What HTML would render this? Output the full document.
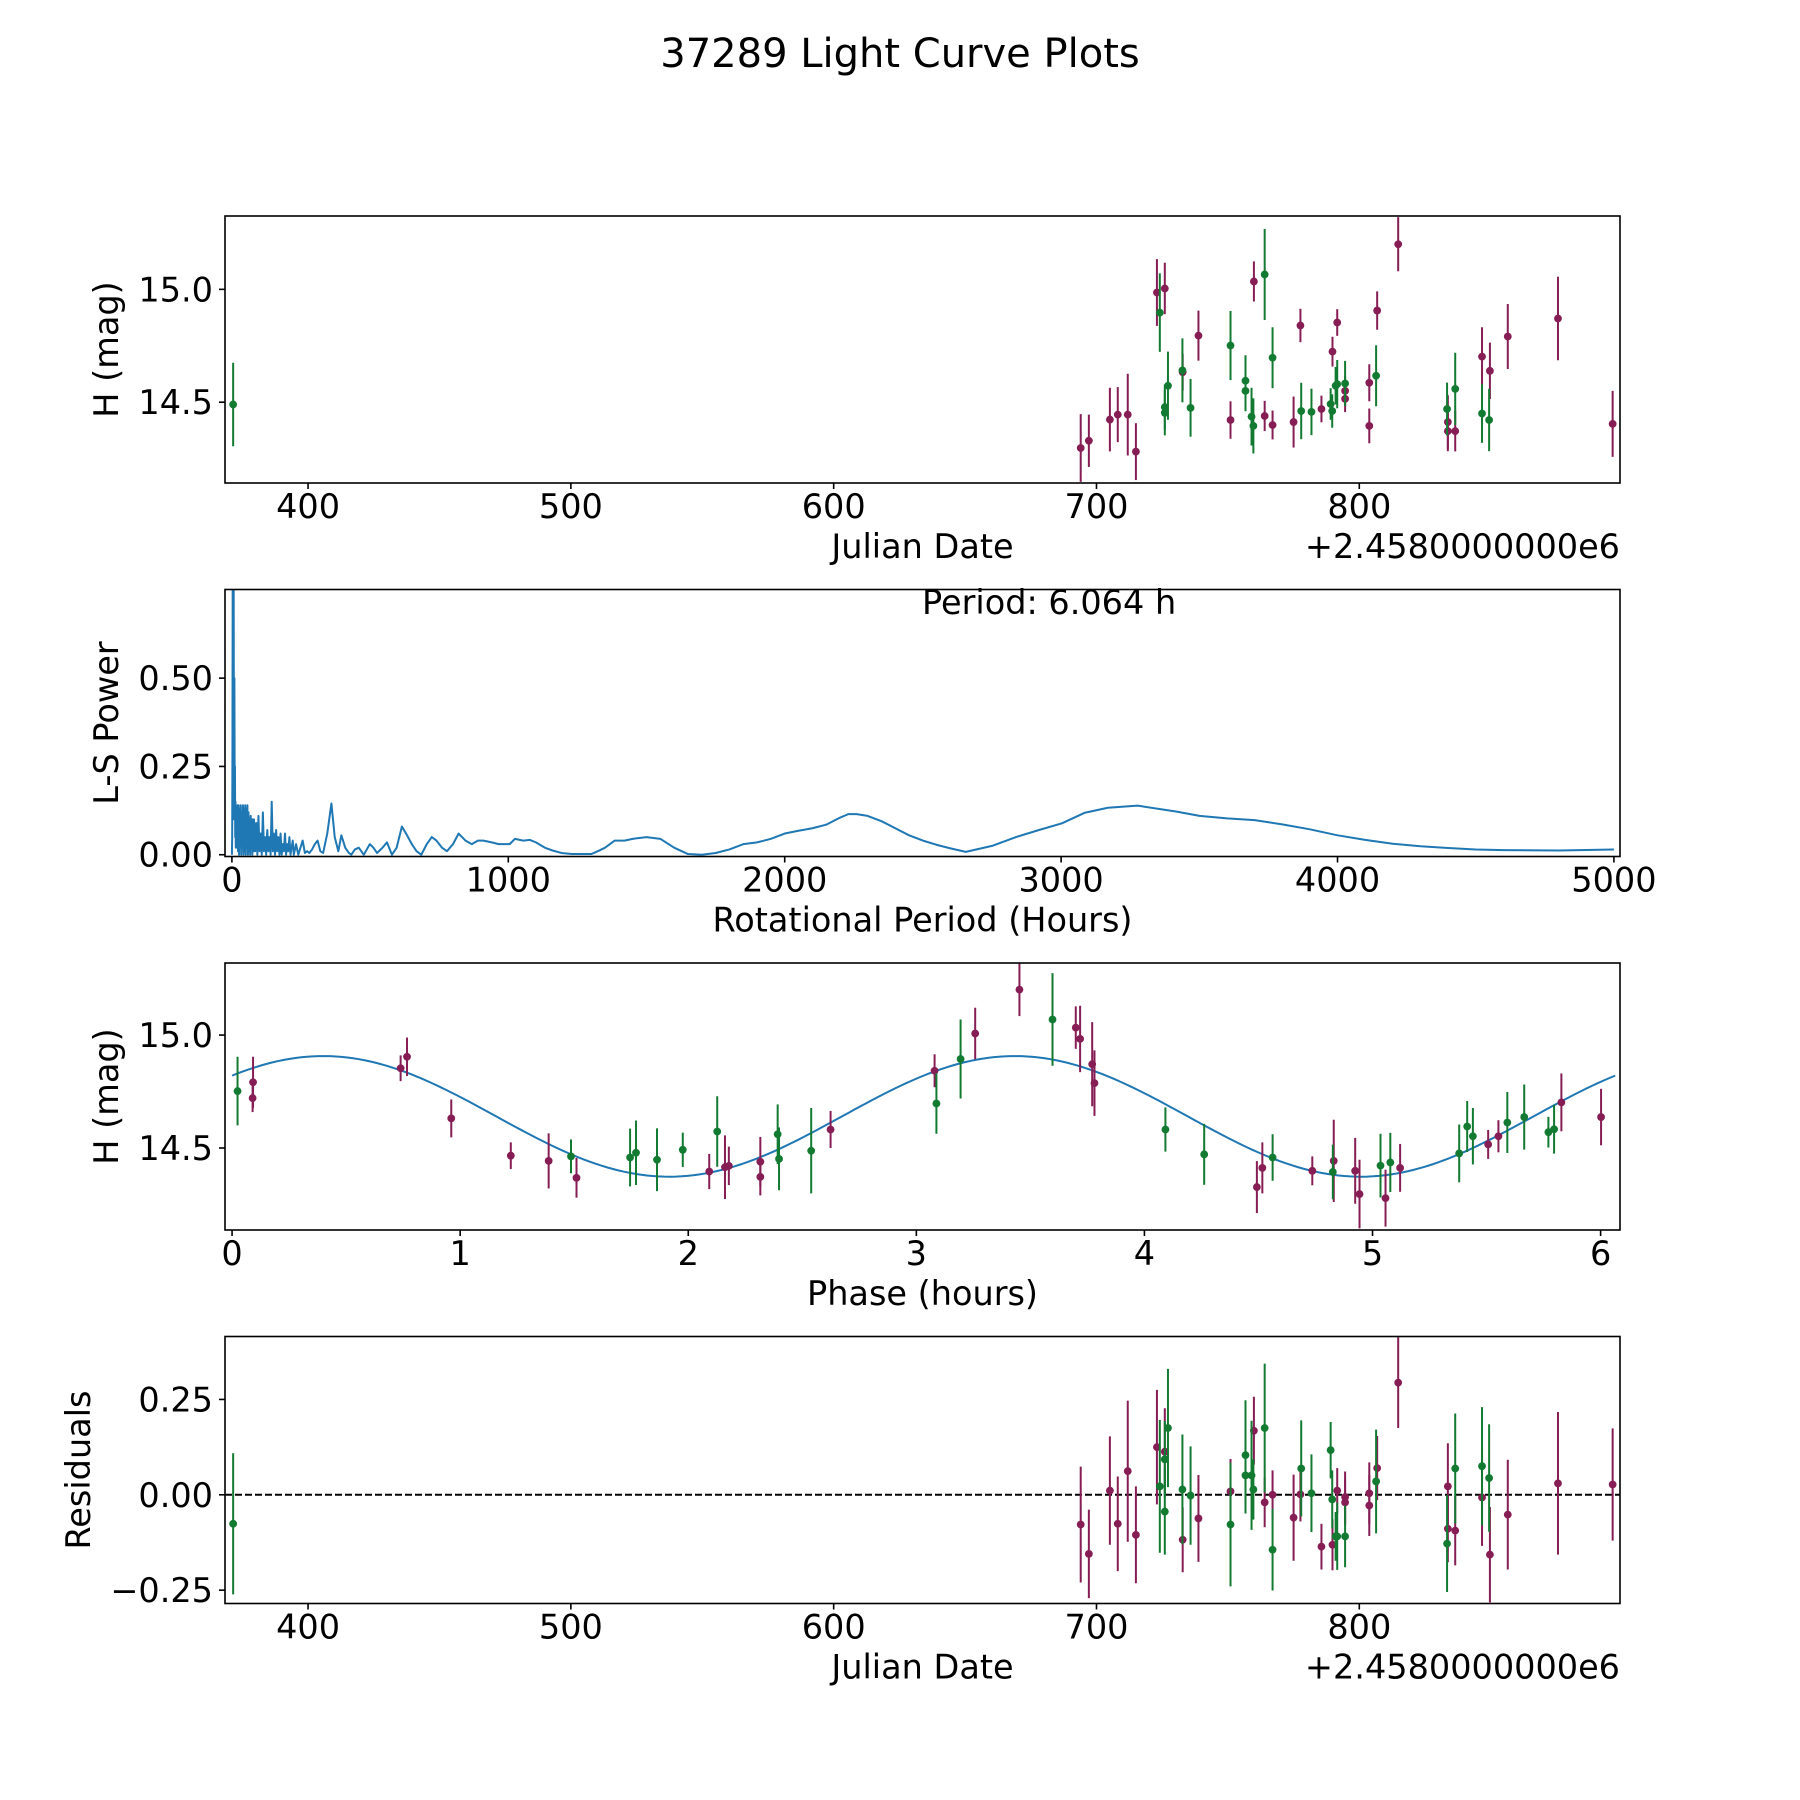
<!DOCTYPE html>
<html><head><meta charset="utf-8"><title>37289 Light Curve Plots</title>
<style>
html,body{margin:0;padding:0;background:#fff;}
svg{display:block;font-family:"DejaVu Sans","Liberation Sans",sans-serif;}
</style></head>
<body>
<svg id="fig" width="1800" height="1800" viewBox="0 0 1800 1800" xmlns="http://www.w3.org/2000/svg">
<rect width="1800" height="1800" fill="#fff"/>
<text x="900" y="67" font-size="40" text-anchor="middle">37289 Light Curve Plots</text>
</svg>
<script>
// ---------- Data: light curve (Julian Date offset, magnitude, error) ----------
const jdPurple = [694.0,697.1,705.1,708.1,711.9,715.0,723.0,726.0,732.8,738.8,751.0,759.9,764.0,767.0,775.0,777.6,785.6,789.8,791.6,794.6,794.6,803.8,803.8,806.8,814.8,833.7,833.7,836.5,846.7,849.7,856.5,875.6,896.4];
const magPurple = [14.297,14.329,14.423,14.445,14.445,14.281,14.986,15.004,14.633,14.795,14.421,15.035,14.439,14.399,14.412,14.840,14.470,14.724,14.853,14.550,14.515,14.586,14.395,14.906,15.200,14.412,14.372,14.372,14.702,14.639,14.791,14.871,14.404];
const errPurple = [0.150,0.116,0.141,0.122,0.181,0.126,0.148,0.114,0.082,0.111,0.083,0.089,0.067,0.064,0.113,0.074,0.059,0.066,0.059,0.067,0.059,0.082,0.077,0.085,0.12,0.119,0.089,0.090,0.130,0.125,0.144,0.185,0.146];
const jdGreen = [371.5,724.1,726.0,726.0,727.2,732.7,735.8,751.0,756.7,756.7,759.0,759.7,764.0,767.0,777.9,781.8,789.1,789.7,791.0,791.6,794.6,806.4,833.4,836.5,846.7,849.4];
const magGreen = [14.49,14.897,14.478,14.453,14.573,14.641,14.475,14.751,14.595,14.550,14.436,14.395,15.066,14.697,14.461,14.457,14.492,14.461,14.573,14.580,14.583,14.617,14.470,14.559,14.450,14.421];
const errGreen = [0.185,0.174,0.1,0.1,0.151,0.142,0.128,0.153,0.113,0.09,0.128,0.122,0.202,0.135,0.125,0.103,0.070,0.074,0.083,0.107,0.10,0.135,0.117,0.16,0.130,0.138];

// ---------- Data: Lomb-Scargle periodogram ----------
const lsPeriod = [0,1,2,3,4,5,6.064,7,8,9,10,11,12,13,14,16,18,20,22,24,26,28,30,32,34,36,38,40,42,44,46,48,50,52,54,56,58,60,62,64,66,68,70,72,74,76,78,80,84,88,92,96,100,104,108,112,116,120,124,128,132,136,140,144,148,152,156,160,164,168,172,176,180,184,188,192,196,200,204,208,212,216,220,224,232,240,248,256,264,272,280,290,300,310,320,330,345,360,372,385,396,410,423,432,445,459,477,499,512,525,545,561,579,596,615,630,651,668,685,705,723,740,760,778,800,820,845,868,890,910,940,965,988,1005,1024,1054,1078,1100,1132,1160,1192,1230,1264,1300,1324,1350,1385,1420,1450,1500,1550,1600,1650,1700,1750,1800,1850,1900,1950,2000,2050,2100,2150,2200,2230,2260,2300,2350,2400,2450,2500,2550,2600,2655,2750,2837,2920,3003,3086,3169,3277,3418,3501,3600,3700,3800,3900,4000,4100,4200,4300,4400,4500,4600,4800,5000];
const lsPower = [0,0.05,0.3,0.9,0.6,0.95,0.98,0.4,0.1,0.5,0.2,0.25,0.05,0.15,0.02,0.13,0.02,0.14,0.01,0.14,0.0,0.13,0.03,0.14,0.0,0.12,0.02,0.14,0.0,0.13,0.01,0.14,0.0,0.13,0.02,0.14,0.0,0.12,0.01,0.1,0.0,0.11,0.02,0.1,0.0,0.1,0.01,0.1,0.01,0.09,0.0,0.11,0.01,0.06,0.0,0.12,0.01,0.05,0.0,0.07,0.01,0.05,0.0,0.15,0.01,0.06,0.0,0.07,0.01,0.05,0.0,0.06,0.0,0.03,0.01,0.06,0.0,0.03,0.01,0.05,0.0,0.02,0.04,0.0,0.03,0.0,0.02,0.04,0.005,0.01,0.005,0.015,0.03,0.04,0.01,0.005,0.06,0.145,0.05,0.01,0.055,0.02,0.005,0.0,0.015,0.02,0.0,0.03,0.02,0.005,0.02,0.035,0.0,0.02,0.08,0.06,0.03,0.01,0.0,0.03,0.05,0.04,0.02,0.01,0.03,0.06,0.04,0.03,0.04,0.04,0.035,0.03,0.03,0.03,0.045,0.04,0.042,0.035,0.02,0.012,0.005,0.002,0.002,0.002,0.01,0.02,0.04,0.04,0.045,0.05,0.045,0.02,0.002,0.0,0.005,0.015,0.03,0.035,0.045,0.06,0.068,0.075,0.085,0.105,0.115,0.115,0.11,0.095,0.075,0.055,0.04,0.028,0.018,0.008,0.025,0.05,0.07,0.089,0.119,0.133,0.139,0.122,0.11,0.103,0.098,0.086,0.072,0.055,0.042,0.031,0.024,0.019,0.015,0.013,0.012,0.015];
const periodLabel = "Period: 6.064 h";

// ---------- Data: phased light curve (phase hours, magnitude, error) ----------
const phPurple = [0.092,0.090,0.739,0.767,0.961,1.222,1.388,1.510,2.092,2.161,2.178,2.316,2.316,2.624,3.080,3.258,3.452,3.699,3.718,3.771,3.781,4.493,4.517,4.736,4.830,4.924,4.943,5.057,5.121,5.507,5.552,5.828,6.002];
const phMagPurple = [14.791,14.721,14.853,14.904,14.631,14.466,14.443,14.368,14.396,14.415,14.421,14.439,14.372,14.582,14.842,15.007,15.201,15.033,14.983,14.871,14.787,14.327,14.412,14.399,14.443,14.399,14.296,14.278,14.412,14.516,14.552,14.702,14.637];
const phErrPurple = [0.113,0.062,0.057,0.085,0.084,0.059,0.122,0.088,0.078,0.141,0.085,0.110,0.082,0.082,0.073,0.114,0.117,0.094,0.147,0.186,0.145,0.115,0.113,0.064,0.182,0.146,0.152,0.126,0.106,0.064,0.071,0.128,0.125];
const phGreen = [0.024,1.486,1.745,1.771,1.863,1.976,2.127,2.392,2.398,2.539,3.088,3.194,3.597,4.092,4.262,4.562,4.826,5.035,5.078,5.380,5.415,5.440,5.591,5.665,5.771,5.796];
const phMagGreen = [14.752,14.463,14.458,14.479,14.448,14.492,14.573,14.561,14.452,14.488,14.697,14.894,15.069,14.582,14.472,14.458,14.394,14.422,14.436,14.476,14.595,14.552,14.613,14.637,14.570,14.583];
const phErrGreen = [0.152,0.075,0.128,0.143,0.139,0.076,0.156,0.132,0.139,0.189,0.134,0.175,0.205,0.098,0.135,0.103,0.121,0.141,0.131,0.128,0.113,0.125,0.135,0.144,0.068,0.108];
// fitted model parameters
const fitMean = [14.64];
const fitAmp = [0.267];
const fitPeak = [0.40];
const fitHalfPeriod = [3.032];
const foldPeriod = [6.064];

// ---------- Data: residuals ----------
const resPurple = [-0.078,-0.155,0.011,-0.076,0.062,-0.105,0.125,0.113,-0.118,-0.062,0.009,0.168,-0.020,0.000,-0.060,0.001,-0.136,-0.131,0.011,-0.006,-0.020,0.004,-0.028,0.070,0.294,0.022,-0.089,-0.094,-0.007,-0.157,-0.052,0.030,0.027];
const resErrPurple = [0.152,0.116,0.142,0.124,0.185,0.127,0.150,0.114,0.085,0.114,0.085,0.089,0.065,0.064,0.113,0.071,0.060,0.067,0.059,0.067,0.06,0.081,0.080,0.084,0.119,0.113,0.088,0.091,0.127,0.125,0.144,0.187,0.147];
const resGreen = [-0.076,0.022,0.093,-0.044,0.175,0.014,-0.002,-0.078,0.104,0.051,0.051,0.014,0.175,-0.144,0.069,0.004,0.117,-0.012,-0.109,-0.109,-0.109,0.035,-0.128,0.069,0.075,0.044];
const resErrGreen = [0.185,0.174,0.10,0.113,0.155,0.144,0.129,0.162,0.144,0.1,0.143,0.079,0.169,0.107,0.126,0.102,0.074,0.076,0.064,0.088,0.081,0.136,0.127,0.144,0.155,0.141];

// ---------- Tick labels ----------
const jdTicks = [400,500,600,700,800];
const magTicks = [14.5,15.0];
const magTickLabels = ["14.5","15.0"];
const lsXTicks = [0,1000,2000,3000,4000,5000];
const lsYTicks = [0,0.25,0.5];
const lsYTickLabels = ["0.00","0.25","0.50"];
const phTicks = [0,1,2,3,4,5,6];
const resTicks = [-0.25,0,0.25];
const resTickLabels = ["\u22120.25","0.00","0.25"];

// ---------- Rendering ----------
const NS = "http://www.w3.org/2000/svg";
const fig = document.getElementById('fig');
const PURPLE = "#861e55", GREEN = "#137a31", BLUE = "#1f77b4";
const L = 225, R = 1620, H = 267;
const FS = 33.5;

function el(tag, attrs, parent) {
  const e = document.createElementNS(NS, tag);
  for (const k in attrs) e.setAttribute(k, attrs[k]);
  (parent || fig).appendChild(e);
  return e;
}
function txt(str, x, y, size, anchor, parent) {
  const t = el('text', {x: x, y: y, 'font-size': size, 'text-anchor': anchor || 'middle', fill: '#000'}, parent);
  t.textContent = str;
  return t;
}

function makeAxes(id, top, xmin, xmax, ymin, ymax) {
  const g = el('g', {});
  
  
  const cp = el('clipPath', {id: 'clip-' + id}, g);
  el('rect', {x: L, y: top, width: R - L, height: H}, cp);
  const sx = v => L + (v - xmin) / (xmax - xmin) * (R - L);
  const sy = v => top + H - (v - ymin) / (ymax - ymin) * H;
  const plot = el('g', {'clip-path': 'url(#clip-' + id + ')'}, g);
  
  
  return {g, plot, sx, sy, top, bottom: top + H};
}
function frame(ax) {
  const r = el('rect', {x: L, y: ax.top, width: R - L, height: H, fill: 'none', stroke: '#000', 'stroke-width': 1.6}, ax.g);
  
  
}
function xTicks(ax, vals, labels, name) {
  const g = el('g', {}, ax.g);
  
  
  vals.forEach((v, i) => {
    const x = ax.sx(v);
    el('line', {x1: x, x2: x, y1: ax.bottom, y2: ax.bottom + 6, stroke: '#000', 'stroke-width': 1.6}, g);
    const t = txt(labels[i], x, ax.bottom + 35, FS, 'middle', g);
    
    
  });
}
function yTicks(ax, vals, labels, name) {
  const g = el('g', {}, ax.g);
  
  
  vals.forEach((v, i) => {
    const y = ax.sy(v);
    el('line', {x1: L - 6, x2: L, y1: y, y2: y, stroke: '#000', 'stroke-width': 1.6}, g);
    const t = txt(labels[i], L - 12, y + 12, FS, 'end', g);
    
    
  });
}
function xLabel(ax, s, name) {
  const t = txt(s, (L + R) / 2, ax.bottom + 75, FS, 'middle', ax.g);
  
  
}
function yLabel(ax, s, x, name) {
  const cy = ax.top + H / 2;
  const t = txt(s, x, cy, FS, 'middle', ax.g);
  t.setAttribute('transform', 'rotate(-90 ' + x + ' ' + cy + ')');
  
  
}
function offsetText(ax) {
  const t = txt('+2.4580000000e6', R, ax.bottom + 75, FS, 'end', ax.g);
  
  
}
function errSeries(ax, xs, ys, es, color, name) {
  const g = el('g', {}, ax.plot);
  
  
  xs.forEach((xv, i) => {
    const x = ax.sx(xv), y = ax.sy(ys[i]);
    const ln = el('line', {x1: x, x2: x, y1: ax.sy(ys[i] + es[i]), y2: ax.sy(ys[i] - es[i]), stroke: color, 'stroke-width': 2}, g);
    
    
    const c = el('circle', {cx: x, cy: y, r: 3.9, fill: color}, g);
    
    
  });
}

// ----- Plot 1: light curve vs Julian Date -----
const ax1 = makeAxes('light-curve', 216, 368.4, 899.2, 14.142, 15.325);
errSeries(ax1, jdPurple, magPurple, errPurple, PURPLE, 'series-filter-1');
errSeries(ax1, jdGreen, magGreen, errGreen, GREEN, 'series-filter-2');
frame(ax1);
xTicks(ax1, jdTicks, jdTicks.map(String), 'x-ticks');
yTicks(ax1, magTicks, magTickLabels, 'y-ticks');
xLabel(ax1, 'Julian Date', 'x-axis-title');
yLabel(ax1, 'H (mag)', 118, 'y-axis-title');
offsetText(ax1);

// ----- Plot 2: periodogram -----
const ax2 = makeAxes('periodogram', 589.5, -25, 5022, -0.005, 0.751);
{
  let d = '';
  lsPeriod.forEach((p, i) => { d += (i ? 'L' : 'M') + ax2.sx(p).toFixed(2) + ' ' + ax2.sy(lsPower[i]).toFixed(2); });
  const path = el('path', {d: d, fill: 'none', stroke: BLUE, 'stroke-width': 2, 'stroke-linejoin': 'round'}, ax2.plot);
  
  
}
frame(ax2);
xTicks(ax2, lsXTicks, lsXTicks.map(String), 'x-ticks');
yTicks(ax2, lsYTicks, lsYTickLabels, 'y-ticks');
xLabel(ax2, 'Rotational Period (Hours)', 'x-axis-title');
yLabel(ax2, 'L-S Power', 118, 'y-axis-title');
{
  const t = txt(periodLabel, 922, 614, FS, 'start', ax2.g);
  
  
}

// ----- Plot 3: phased light curve -----
const ax3 = makeAxes('phase-curve', 963, -0.031, 6.085, 14.137, 15.319);
{
  let d = '';
  const n = 240;
  for (let i = 0; i <= n; i++) {
    const ph = foldPeriod[0] * i / n;
    const m = fitMean[0] + fitAmp[0] * Math.cos(2 * Math.PI * (ph - fitPeak[0]) / fitHalfPeriod[0]);
    d += (i ? 'L' : 'M') + ax3.sx(ph).toFixed(2) + ' ' + ax3.sy(m).toFixed(2);
  }
  const path = el('path', {d: d, fill: 'none', stroke: BLUE, 'stroke-width': 2}, ax3.plot);
  
  
}
errSeries(ax3, phPurple, phMagPurple, phErrPurple, PURPLE, 'series-filter-1');
errSeries(ax3, phGreen, phMagGreen, phErrGreen, GREEN, 'series-filter-2');
frame(ax3);
xTicks(ax3, phTicks, phTicks.map(String), 'x-ticks');
yTicks(ax3, magTicks, magTickLabels, 'y-ticks');
xLabel(ax3, 'Phase (hours)', 'x-axis-title');
yLabel(ax3, 'H (mag)', 118, 'y-axis-title');

// ----- Plot 4: residuals -----
const ax4 = makeAxes('residuals', 1336.5, 368.4, 899.2, -0.285, 0.415);
{
  const z = ax4.sy(0);
  const ln = el('line', {x1: L, x2: R, y1: z, y2: z, stroke: '#000', 'stroke-width': 2, 'stroke-dasharray': '7 3'}, ax4.plot);
  
  
}
errSeries(ax4, jdPurple, resPurple, resErrPurple, PURPLE, 'series-filter-1');
errSeries(ax4, jdGreen, resGreen, resErrGreen, GREEN, 'series-filter-2');
frame(ax4);
xTicks(ax4, jdTicks, jdTicks.map(String), 'x-ticks');
yTicks(ax4, resTicks, resTickLabels, 'y-ticks');
xLabel(ax4, 'Julian Date', 'x-axis-title');
yLabel(ax4, 'Residuals', 90, 'y-axis-title');
offsetText(ax4);
</script>
</body></html>
